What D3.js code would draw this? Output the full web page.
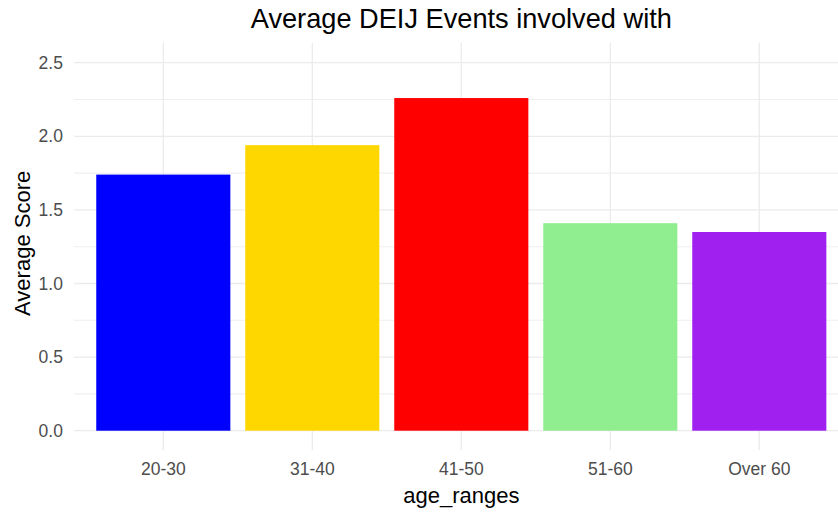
<!DOCTYPE html>
<html>
<head>
<meta charset="utf-8">
<script src="https://cdn.jsdelivr.net/npm/d3@7"></script>
<style>
  html, body { margin: 0; padding: 0; background: #ffffff; }
  svg { display: block; font-family: "Liberation Sans", Arial, sans-serif; }
</style>
</head>
<body>
<svg id="chart" width="838" height="514"></svg>
<script>
// Average number of DEIJ events, by age range
const categories = ["20-30", "31-40", "41-50", "51-60", "Over 60"];
const avgScores = [1.74, 1.94, 2.26, 1.41, 1.35];
const barColors = ["#0000FF", "#FFD700", "#FF0000", "#90EE90", "#A020F0"];
const yMajorTicks = [0, 0.5, 1, 1.5, 2, 2.5];
const yMinorTicks = [0.25, 0.75, 1.25, 1.75, 2.25];

const svg = d3.select("#chart");

// panel box
const panel = { left: 73.9, right: 848.7, top: 42.7, bottom: 450 };

const x = d3.scaleBand()
  .domain(categories)
  .range([panel.left, panel.right])
  .paddingInner(0.1)
  .paddingOuter(0.15);

const y = d3.scaleLinear()
  .domain([-0.131, 2.636])
  .range([panel.bottom, panel.top]);

const grid = svg.append("g");

// minor horizontal grid
grid.selectAll("line.minor")
  .data(yMinorTicks)
  .join("line")
  .attr("class", "minor")
  .attr("x1", panel.left).attr("x2", panel.right)
  .attr("y1", d => y(d)).attr("y2", d => y(d))
  .attr("stroke", "#EFEFEF")
  .attr("stroke-width", 1.1);

// major horizontal grid
grid.selectAll("line.hmajor")
  .data(yMajorTicks)
  .join("line")
  .attr("class", "hmajor")
  .attr("x1", panel.left).attr("x2", panel.right)
  .attr("y1", d => y(d)).attr("y2", d => y(d))
  .attr("stroke", "#EBEBEB")
  .attr("stroke-width", 1.3);

// vertical grid at each category
grid.selectAll("line.vmajor")
  .data(categories)
  .join("line")
  .attr("class", "vmajor")
  .attr("x1", d => x(d) + x.bandwidth() / 2).attr("x2", d => x(d) + x.bandwidth() / 2)
  .attr("y1", panel.top).attr("y2", panel.bottom)
  .attr("stroke", "#EBEBEB")
  .attr("stroke-width", 1.3);

// bars
svg.append("g")
  .selectAll("rect")
  .data(categories)
  .join("rect")
  .attr("x", d => x(d))
  .attr("width", x.bandwidth())
  .attr("y", (d, i) => y(avgScores[i]))
  .attr("height", (d, i) => y(0) - y(avgScores[i]))
  .attr("fill", (d, i) => barColors[i]);

// y axis labels
const yAxis = svg.append("g")
  .attr("transform", `translate(${panel.left - 11},0)`)
  .call(d3.axisLeft(y).tickValues(yMajorTicks).tickFormat(d3.format(".1f")).tickSize(0).tickPadding(0));
yAxis.select(".domain").remove();
yAxis.selectAll("text")
  .attr("fill", "#4D4D4D")
  .attr("font-size", "17.5px")
  .attr("font-family", "Liberation Sans, Arial, sans-serif");

// x axis labels
const xAxis = svg.append("g")
  .attr("transform", `translate(0,${panel.bottom})`)
  .call(d3.axisBottom(x).tickSize(0).tickPadding(13));
xAxis.select(".domain").remove();
xAxis.selectAll("text")
  .attr("fill", "#4D4D4D")
  .attr("font-size", "17.5px")
  .attr("font-family", "Liberation Sans, Arial, sans-serif");

// axis titles
svg.append("text")
  .attr("x", (panel.left + panel.right) / 2)
  .attr("y", 502.5)
  .attr("text-anchor", "middle")
  .attr("font-size", "22px")
  .attr("fill", "#000")
  .text("age_ranges");

svg.append("text")
  .attr("transform", `translate(30,${(panel.top + panel.bottom) / 2 - 3}) rotate(-90)`)
  .attr("text-anchor", "middle")
  .attr("font-size", "22px")
  .attr("fill", "#000")
  .text("Average Score");

// title
svg.append("text")
  .attr("x", (panel.left + panel.right) / 2)
  .attr("y", 27.5)
  .attr("text-anchor", "middle")
  .attr("font-size", "27.2px")
  .attr("fill", "#000")
  .text("Average DEIJ Events involved with");
</script>
</body>
</html>
